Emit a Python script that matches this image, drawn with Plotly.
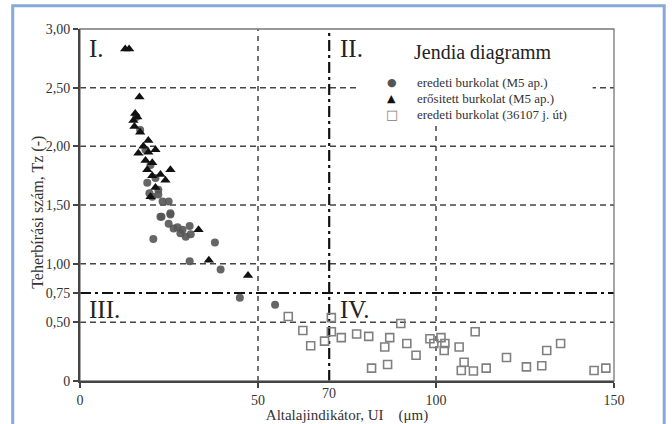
import plotly.graph_objects as go

# eredeti burkolat (M5 ap.)
m5_eredeti_ui = [20.6, 30.8, 39.5, 44.9, 54.8, 37.9, 22.9, 25.4, 24.9, 27.4, 26.3, 28.8, 29.7,
                 30.8, 31.1, 28.2, 18.9, 20.3, 22.0, 23.2, 24.9, 25.4, 22.6,
                 16.9, 18.4, 19.8, 15.8, 21.2, 22.0, 19.5]
m5_eredeti_tz = [1.21, 1.02, 0.95, 0.71, 0.65, 1.18, 1.40, 1.42, 1.34, 1.31, 1.30, 1.29, 1.23,
                 1.32, 1.25, 1.26, 1.69, 1.57, 1.59, 1.53, 1.53, 1.43, 1.40,
                 2.14, 1.97, 1.84, 2.25, 1.73, 1.63, 1.60]

# erősített burkolat (M5 ap.)
m5_erositett_ui = [12.7, 13.8, 16.7, 15.5, 15.0, 16.1, 15.3, 16.9, 19.2, 16.4, 19.2, 21.2, 18.4,
                   20.3, 18.9, 22.6, 25.4, 24.0, 21.2, 19.8, 33.3, 36.2, 47.2, 20.3, 17.8]
m5_erositett_tz = [2.83, 2.83, 2.42, 2.28, 2.22, 2.25, 2.17, 2.12, 2.05, 1.94, 1.95, 1.97, 1.88,
                   1.86, 1.80, 1.76, 1.80, 1.71, 1.65, 1.57, 1.29, 1.03, 0.90, 1.75, 2.00]

# eredeti burkolat (36107 j. út)
ut_eredeti_ui = [58.5, 62.6, 64.8, 68.7, 70.6, 70.6, 73.4, 77.7, 81.1, 87.0, 85.6, 81.9, 86.4,
                 90.1, 91.8, 94.4, 98.3, 99.4, 101.4, 102.3, 102.5, 106.5, 107.9, 107.1, 110.5,
                 111.0, 114.1, 119.8, 125.4, 129.7, 131.1, 135.0, 144.4, 147.7]
ut_eredeti_tz = [0.55, 0.43, 0.30, 0.34, 0.54, 0.42, 0.37, 0.40, 0.38, 0.37, 0.29, 0.11, 0.14,
                 0.49, 0.32, 0.22, 0.36, 0.32, 0.37, 0.26, 0.32, 0.29, 0.16, 0.09, 0.085,
                 0.42, 0.11, 0.20, 0.12, 0.13, 0.26, 0.32, 0.09, 0.11]

series_names = ["eredeti burkolat (M5 ap.)", "erősitett burkolat (M5 ap.)",
                "eredeti burkolat (36107 j. út)"]
series_glyphs = ["●", "▲", "□"]
series_glyph_sizes = [11, 11, 13]
series_colors = ["#555555", "#111111", "#808080"]

y_ticks = [0, 0.5, 0.75, 1.0, 1.5, 2.0, 2.5, 3.0]
y_ticktext = ["0", "0,50", "0,75", "1,00", "1,50", "2,00", "2,50", "3,00"]
x_ticks = [0, 50, 100, 150]
x_ticktext = ["0", "50", "100", "150"]
x_limit = 70
tz_limit = 0.75
grid_x = [50, 100]
grid_y = [0.5, 1.0, 1.5, 2.0, 2.5]

SERIF = "Liberation Serif"

fig = go.Figure()
fig.add_trace(go.Scatter(
    x=m5_eredeti_ui, y=m5_eredeti_tz, mode="markers", name=series_names[0],
    marker=dict(symbol="circle", size=8, color=series_colors[0], opacity=0.9),
))
fig.add_trace(go.Scatter(
    x=m5_erositett_ui, y=m5_erositett_tz, mode="markers", name=series_names[1],
    marker=dict(symbol="triangle-up", size=9, color=series_colors[1]),
))
fig.add_trace(go.Scatter(
    x=ut_eredeti_ui, y=ut_eredeti_tz, mode="markers", name=series_names[2],
    marker=dict(symbol="square-open", size=8, color=series_colors[2], line=dict(width=1.6)),
))

shapes = []
# dashed grid
for gx in grid_x:
    shapes.append(dict(type="line", xref="x", yref="paper", x0=gx, x1=gx, y0=0, y1=1,
                       line=dict(color="#444444", width=1.5, dash="5px,5px"), layer="below"))
for gy in grid_y:
    shapes.append(dict(type="line", xref="paper", yref="y", x0=0, x1=1, y0=gy, y1=gy,
                       line=dict(color="#444444", width=1.5, dash="6px,4px"), layer="below"))
# limit lines (dash-dot)
shapes.append(dict(type="line", xref="x", yref="paper", x0=x_limit, x1=x_limit, y0=0, y1=1,
                   line=dict(color="#111111", width=2.2, dash="11px,4px,3px,4px"), layer="below"))
shapes.append(dict(type="line", xref="paper", yref="y", x0=0, x1=1, y0=tz_limit, y1=tz_limit,
                   line=dict(color="#111111", width=2.2, dash="11px,4px,3px,4px"), layer="below"))
# white panel behind the title and key
shapes.append(dict(type="rect", xref="paper", yref="paper", x0=0.52, x1=0.96, y0=0.73, y1=1,
                   line=dict(width=0), fillcolor="white", layer="below"))
# plot frame
shapes.append(dict(type="rect", xref="paper", yref="paper", x0=0, x1=1, y0=0, y1=1,
                   line=dict(color="#777777", width=1.3), layer="below"))
# outer border
shapes.append(dict(type="rect", xref="paper", yref="paper", x0=-0.126, x1=1.094, y0=-0.16, y1=1.066,
                   line=dict(color="#86A9DA", width=3)))

annotations = [
    dict(text="I.", x=0.014, y=0.99, xref="paper", yref="paper", xanchor="left", yanchor="top",
         showarrow=False, font=dict(family=SERIF, size=25, color="#222222")),
    dict(text="II.", x=0.483, y=0.99, xref="paper", yref="paper", xanchor="left", yanchor="top",
         showarrow=False, font=dict(family=SERIF, size=25, color="#222222")),
    dict(text="III.", x=0.014, y=0.203, xref="paper", yref="paper", xanchor="left", yanchor="middle",
         showarrow=False, font=dict(family=SERIF, size=25, color="#222222")),
    dict(text="IV.", x=0.483, y=0.203, xref="paper", yref="paper", xanchor="left", yanchor="middle",
         showarrow=False, font=dict(family=SERIF, size=25, color="#222222")),
    dict(text="Jendia diagramm", x=0.755, y=0.932, xref="paper", yref="paper", xanchor="center",
         yanchor="middle", showarrow=False, font=dict(family=SERIF, size=20, color="#222222")),
    dict(text=str(x_limit), x=x_limit, y=-0.008, xref="x", yref="paper", xanchor="center",
         yanchor="top", showarrow=False, font=dict(family=SERIF, size=14, color="#333333")),
    # y-axis title
    dict(text="Teherbírási szám, Tz (-)", x=-0.079, y=0.48, xref="paper", yref="paper",
         xanchor="center", yanchor="middle", textangle=-90, showarrow=False,
         font=dict(family=SERIF, size=16, color="#333333")),
]

# key to the three series
legend_rows_y = [0.849, 0.803, 0.756]
for name, glyph, gsize, color, ry in zip(series_names, series_glyphs, series_glyph_sizes,
                                         series_colors, legend_rows_y):
    annotations.append(dict(text=glyph, x=0.584, y=ry, xref="paper", yref="paper",
                            xanchor="center", yanchor="middle", showarrow=False,
                            font=dict(family="DejaVu Sans", size=gsize, color=color)))
    annotations.append(dict(text=name, x=0.627, y=ry, xref="paper", yref="paper",
                            xanchor="left", yanchor="middle", showarrow=False,
                            font=dict(family=SERIF, size=13, color="#333333")))

fig.update_layout(
    width=672, height=424,
    margin=dict(l=80, r=58, t=29, b=43),
    paper_bgcolor="white", plot_bgcolor="white",
    shapes=shapes, annotations=annotations,
    font=dict(family=SERIF, color="#333333"),
    showlegend=False,
    xaxis=dict(range=[0, 150], tickvals=x_ticks, ticktext=x_ticktext, showgrid=False,
               zeroline=False, showline=True, linecolor="#444444", linewidth=2,
               ticks="outside", ticklen=5, tickcolor="#444444", tickwidth=1.5,
               automargin=False,
               tickfont=dict(family=SERIF, size=14, color="#333333"),
               title=dict(text="Altalajindikátor, UI    (μm)", standoff=0,
                          font=dict(family=SERIF, size=15, color="#333333"))),
    yaxis=dict(range=[0, 3], tickvals=y_ticks, ticktext=y_ticktext, showgrid=False,
               zeroline=False, showline=True, linecolor="#444444", linewidth=2,
               ticks="outside", ticklen=5, tickcolor="#444444", tickwidth=1.5,
               automargin=False,
               tickfont=dict(family=SERIF, size=14, color="#333333")),
)

fig.write_html("out.html")
